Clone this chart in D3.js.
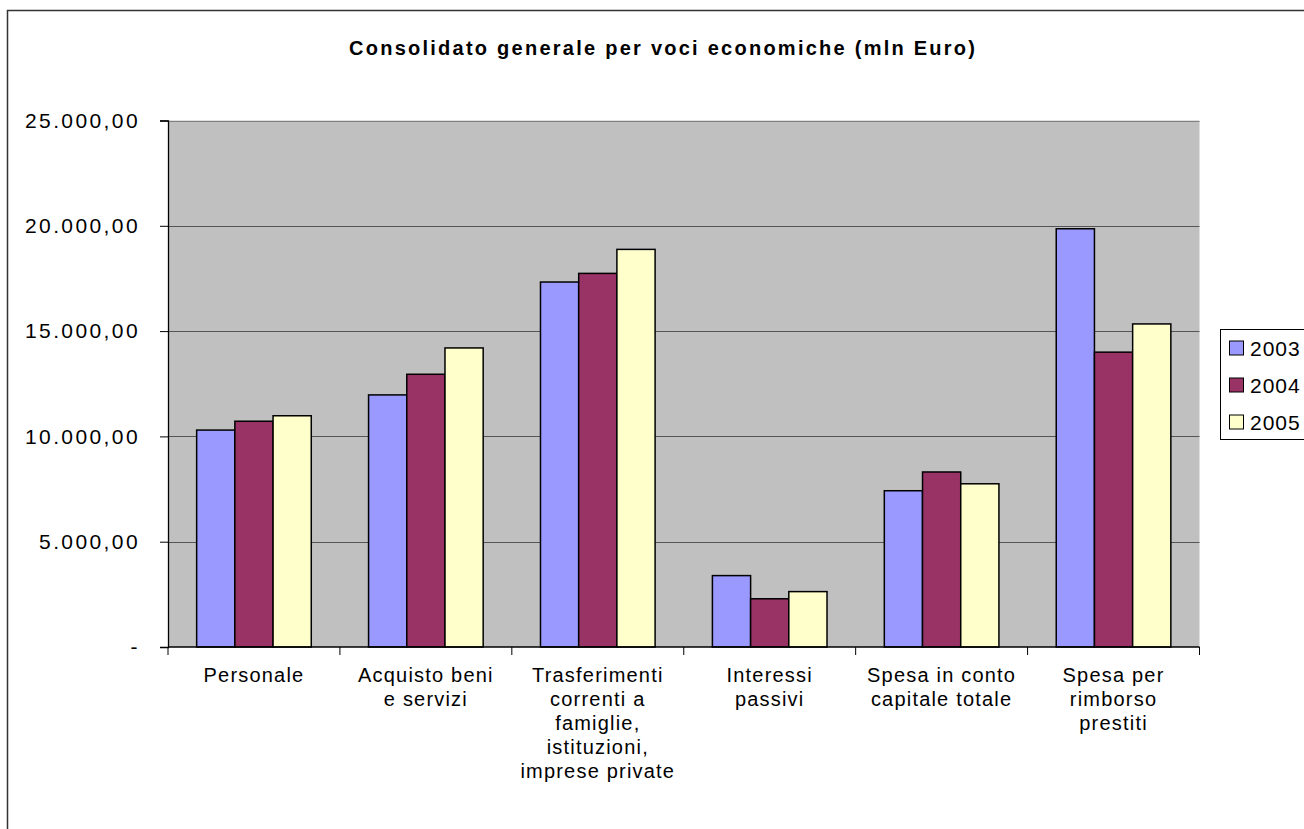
<!DOCTYPE html>
<html><head><meta charset="utf-8">
<script src="https://cdn.jsdelivr.net/npm/d3@7"></script>
<style>body{margin:0;background:#fff}svg{display:block}</style>
</head><body>
<script>
const categories = [
  ["Personale"],
  ["Acquisto beni","e servizi"],
  ["Trasferimenti","correnti a","famiglie,","istituzioni,","imprese private"],
  ["Interessi","passivi"],
  ["Spesa in conto","capitale totale"],
  ["Spesa per","rimborso","prestiti"]
];
const years = ["2003","2004","2005"];
const v2003 = [10300, 11970, 17330, 3390, 7420, 19860];
const v2004 = [10720, 12950, 17740, 2290, 8310, 14000];
const v2005 = [10980, 14200, 18880, 2630, 7750, 15340];
const yTicks = [0, 5000, 10000, 15000, 20000, 25000];
const colors = ["#9999FF", "#993366", "#FFFFCC"];
const series = [v2003, v2004, v2005];

const W = 1304, H = 829;
const svg = d3.select("body").append("svg").attr("width", W).attr("height", H);
const font = "'Liberation Sans', Arial, sans-serif";

svg.append("rect").attr("x", 7.5).attr("y", 10.5).attr("width", W).attr("height", H)
  .attr("fill", "#fff").attr("stroke", "#333").attr("stroke-width", 1.5);

const L = 168, R = 1199.5, T = 120.5, B = 647;
const x = d3.scaleBand().domain(d3.range(categories.length)).range([L, R]).paddingInner(0).paddingOuter(0);
const y = d3.scaleLinear().domain([0, 25000]).range([B, T]);

svg.append("rect").attr("x", L).attr("y", T).attr("width", R - L).attr("height", B - T)
  .attr("fill", "#C0C0C0");

// gridlines
svg.append("g").selectAll("line").data(yTicks.filter(d => d > 0)).join("line")
  .attr("x1", L).attr("x2", R).attr("y1", d => Math.round(y(d)) + 0.5).attr("y2", d => Math.round(y(d)) + 0.5)
  .attr("stroke", d => d === 25000 ? "#808080" : "#555").attr("stroke-width", 1);

// bars
const bw = x.bandwidth() / 4.5;
const g = svg.append("g");
series.forEach((s, si) => {
  g.selectAll(null).data(s).join("rect")
    .attr("x", (d, i) => x(i) + 0.75 * bw + si * bw)
    .attr("y", d => y(d))
    .attr("width", bw)
    .attr("height", d => B - y(d))
    .attr("fill", colors[si]).attr("stroke", "#000").attr("stroke-width", 1.5);
});

// y axis
const yAxis = d3.axisLeft(y).tickValues(yTicks).tickSize(8).tickPadding(20)
  .tickFormat(d => d === 0 ? "-" : d3.format(",.2f")(d).replace(/,/g, "#").replace(/\./g, ",").replace(/#/g, "."));
const ya = svg.append("g").attr("transform", `translate(${L},0)`).call(yAxis);
ya.select(".domain").attr("stroke", "#000").attr("stroke-width", 1.3);
ya.selectAll(".tick line").attr("stroke", "#000");
ya.selectAll("text").attr("font-family", font).attr("font-size", 21).attr("letter-spacing", 2.4).attr("fill", "#000");

// x axis
const xa = svg.append("g").attr("transform", `translate(0,${B})`);
xa.append("line").attr("x1", L).attr("x2", R).attr("y1", 0).attr("y2", 0).attr("stroke", "#000").attr("stroke-width", 1.3);
xa.selectAll(".xt").data(d3.range(categories.length + 1)).join("line")
  .attr("x1", i => i < categories.length ? x(i) : R).attr("x2", i => i < categories.length ? x(i) : R)
  .attr("y1", 0).attr("y2", 8).attr("stroke", "#000");
const lbl = xa.selectAll(".xl").data(categories).join("text")
  .attr("x", (d, i) => x(i) + x.bandwidth() / 2).attr("y", 35)
  .attr("text-anchor", "middle").attr("font-family", font).attr("font-size", 20)
  .attr("letter-spacing", 1.2).attr("fill", "#000");
lbl.selectAll("tspan").data(d => d).join("tspan")
  .attr("x", function() { return this.parentNode.getAttribute("x"); })
  .attr("dy", (d, i) => i === 0 ? 0 : 24).text(d => d);

// title
svg.append("text").attr("x", 662).attr("y", 55).attr("text-anchor", "middle")
  .attr("font-family", font).attr("font-weight", "bold").attr("font-size", 20)
  .attr("textLength", 626).attr("lengthAdjust", "spacing")
  .text("Consolidato generale per voci economiche (mln Euro)");

// legend
const lg = svg.append("g");
lg.append("rect").attr("x", 1220.5).attr("y", 329.5).attr("width", 100).attr("height", 110)
  .attr("fill", "#fff").attr("stroke", "#000").attr("stroke-width", 1);
years.forEach((yr, i) => {
  const cy = 348.5 + i * 37;
  lg.append("rect").attr("x", 1229.5).attr("y", cy - 7.5).attr("width", 14).attr("height", 14)
    .attr("fill", colors[i]).attr("stroke", "#000").attr("stroke-width", 1);
  lg.append("text").attr("x", 1250).attr("y", cy + 7).attr("font-family", font).attr("font-size", 21)
    .attr("letter-spacing", 1).text(yr);
});
</script>
</body></html>
